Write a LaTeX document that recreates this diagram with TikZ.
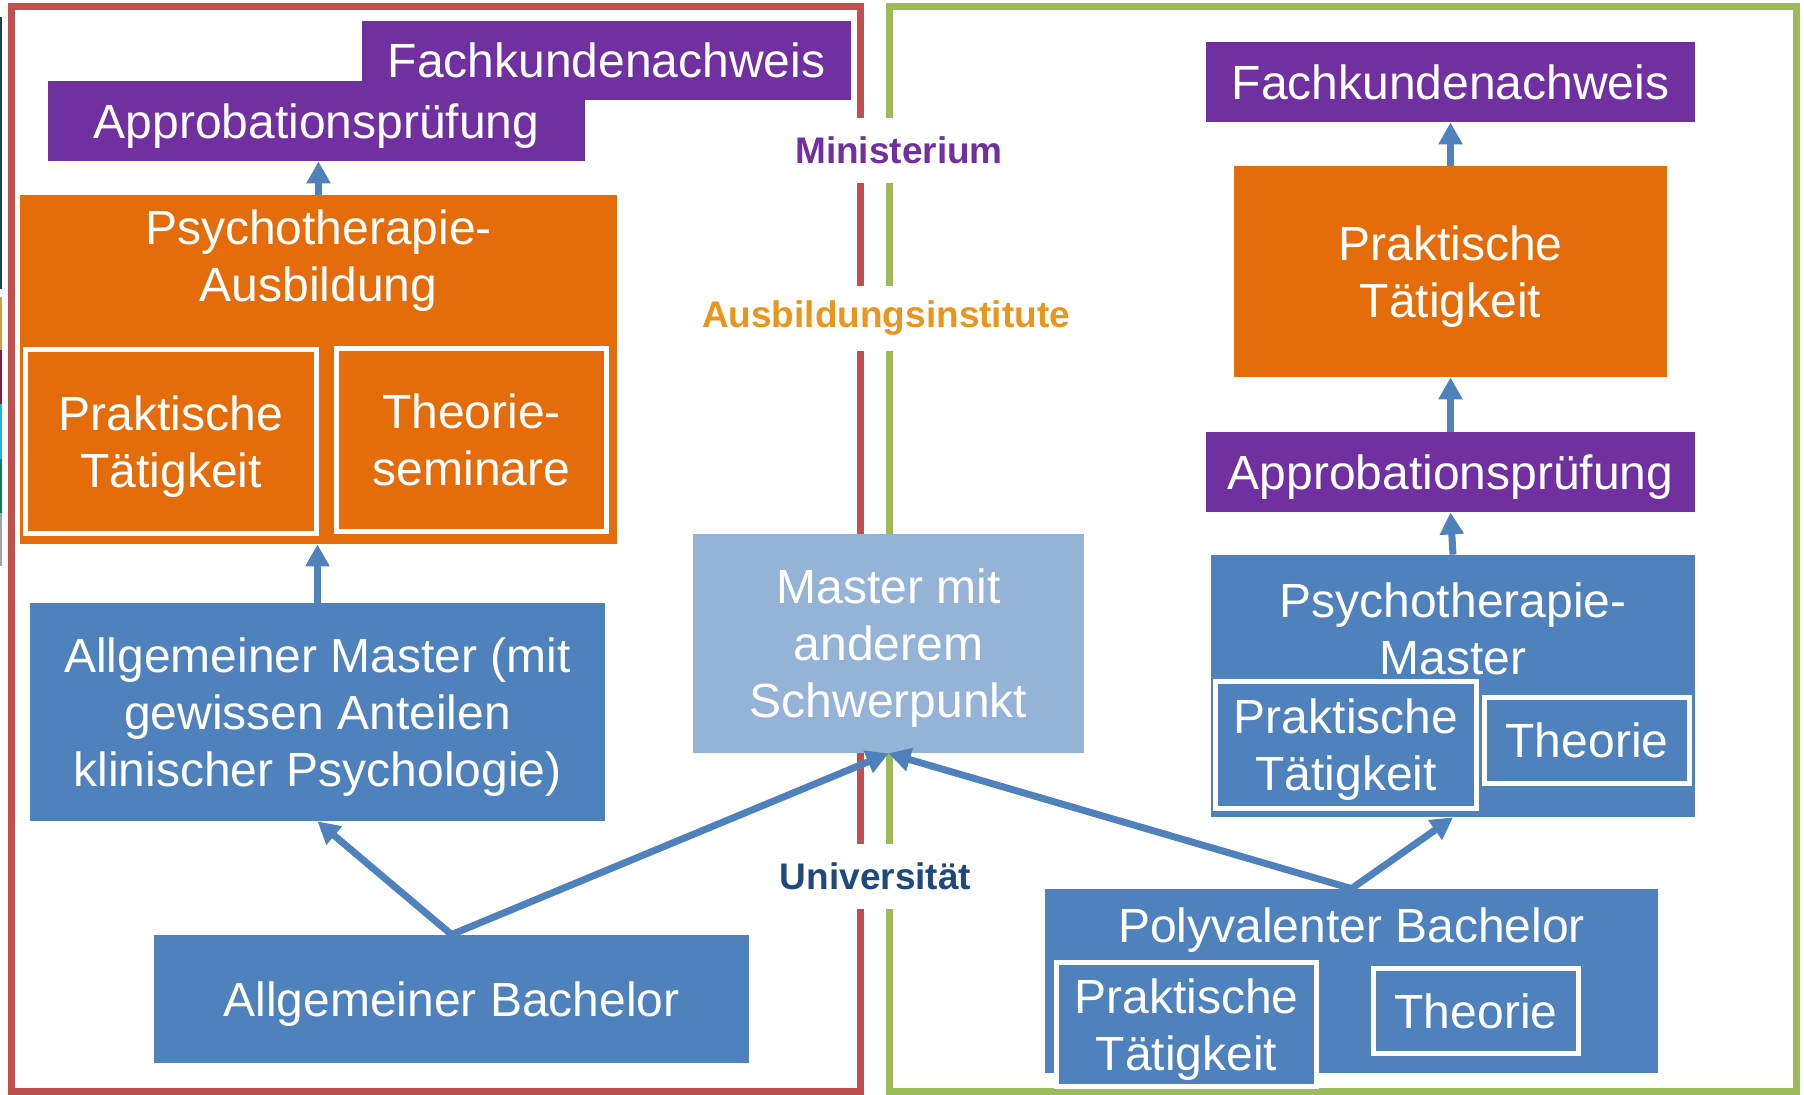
\documentclass[tikz,border=0pt]{standalone}
\usepackage{fontspec}
\setmainfont{Liberation Sans}
\usetikzlibrary{arrows.meta}

\definecolor{ministry}{HTML}{7030A0}
\definecolor{institute}{HTML}{E46C0A}
\definecolor{instlabel}{HTML}{E8961E}
\definecolor{uni}{HTML}{4F81BD}
\definecolor{unilight}{HTML}{95B3D7}
\definecolor{unilabel}{HTML}{1F497D}
\definecolor{oldframe}{HTML}{C0504D}
\definecolor{newframe}{HTML}{9BBB59}

\tikzset{
  sz/.style 2 args = {minimum width=#1*0.5pt, minimum height=#2*0.5pt},
  boxtext/.style = {rectangle, text=white, align=center, inner sep=0pt, text depth=0pt,
    font=\fontsize{24}{28.5}\selectfont},
  exam/.style = {boxtext, fill=ministry},
  inst/.style = {boxtext, fill=institute},
  unibox/.style = {boxtext, fill=uni},
  part/.style = {boxtext, draw=white, line width=2.5pt},
  flow/.style = {draw=uni, line width=3.5pt, ->},
  level/.style = {fill=white, inner xsep=3pt, inner ysep=0pt, minimum height=32.5pt,
    font=\fontsize{18.5}{22}\selectfont\bfseries},
  frame/.style = {line width=3.5pt},
}

\begin{document}
\begin{tikzpicture}[x=0.5pt, y=-0.5pt, >={Triangle[length=11pt,width=11.5pt]}]
    \useasboundingbox (0,0) rectangle (1804,1094);

    % strips at the left edge
    \foreach \c/\a/\b in {1F3A64/17/289, C8A03C/297/350, 8C1D40/350/404,
                          1EB4E6/404/459, 0A7B6E/459/513, 9AA5B0/513/566} {
      \definecolor{strip}{HTML}{\c}
      \fill[strip] (0,\a) rectangle (2,\b);
    }

    \draw[oldframe, frame] (11,6.5) rectangle (860,1091);
    \draw[newframe, frame] (889,6.5) rectangle (1796,1091);

    \node[level, text=ministry] (lvlM) at (899,150) {Ministerium};
    \node[level, text=instlabel] (lvlA) at (886,318) {Ausbildungsinstitute};
    \node[level, text=unilabel] (lvlU) at (875.5,876) {Universität};

    % old route
    \node[exam, sz={489}{79}] (fachL) at (606.5,60.5) {Fachkundenachweis};
    \node[exam, sz={537}{80}] (approL) at (316.5,121) {Approbationsprüfung};
    \node[inst, sz={597}{349}] (ausb) at (318.5,369.5) {};
    \node[boxtext] (ausbT) at (318.5,256) {Psychotherapie-\\Ausbildung};
    \node[part, sz={291}{184}] (praktL) at (171,441.5) {Praktische\\Tätigkeit};
    \node[part, sz={270}{183}] (theoL) at (471.5,440) {Theorie-\\seminare};
    \node[unibox, sz={575}{218}] (mastL) at (317.5,712) {Allgemeiner Master (mit\\gewissen Anteilen\\klinischer Psychologie)};
    \node[unibox, sz={595}{128}] (bachL) at (451.5,999) {Allgemeiner Bachelor};

    \node[boxtext, fill=unilight, sz={391}{219}] (mastC) at (888.5,643.5) {Master mit\\anderem\\Schwerpunkt};

    % new route
    \node[exam, sz={489}{80}] (fachR) at (1450.5,82) {Fachkundenachweis};
    \node[inst, sz={433}{211}] (praktR) at (1450.5,271.5) {Praktische\\Tätigkeit};
    \node[exam, sz={489}{80}] (approR) at (1450.5,472) {Approbationsprüfung};
    \node[unibox, sz={484}{262}] (mastR) at (1453,686) {};
    \node[boxtext] (mastT) at (1453,629) {Psychotherapie-\\Master};
    \node[part, fill=uni, sz={261}{127}] (mastRp) at (1346,745) {Praktische\\Tätigkeit};
    \node[part, sz={205}{86}] (mastRt) at (1587,740.5) {Theorie};
    \node[unibox, sz={613}{184}] (bachR) at (1351.5,981) {};
    \node[boxtext, anchor=base] (bachT) at (1351.5,942) {Polyvalenter Bachelor};
    \node[part, fill=uni, sz={260}{124}] (bachRp) at (1186.5,1024.5) {Praktische\\Tätigkeit};
    \node[part, sz={205}{85}] (bachRt) at (1476,1011) {Theorie};

    \draw[flow] (ausb.north) -- (ausb.north |- approL.south);
    \draw[flow] (mastL.north) -- (mastL.north |- ausb.south);
    \draw[flow] (praktR.north) -- (fachR.south);
    \draw[flow] (approR.north) -- (praktR.south);
    \draw[flow] (mastR.north) -- (approR.south);
    \draw[flow, <->] (mastL.south) -- (bachL.north) -- (mastC.south);
    \draw[flow, <->] (mastC.south) -- (bachR.north) -- (mastR.south);
\end{tikzpicture}
\end{document}
